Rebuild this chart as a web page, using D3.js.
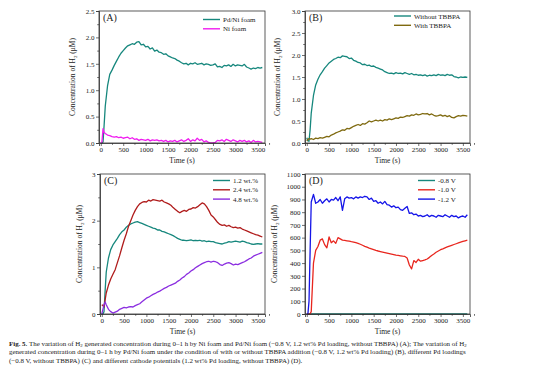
<!DOCTYPE html>
<html lang="en">
<head>
<meta charset="UTF-8">
<title>Fig. 5</title>
<script src="https://d3js.org/d3.v7.min.js"></script>
<style>
  body { margin: 0; background: #fff; }
  svg { display: block; font-family: "Liberation Serif", "DejaVu Serif", serif; }
</style>
</head>
<body>
<script>
// time axis shared by every series (s)
let time = [0, 25, 50, 75, 100,
  150, 200, 250, 300, 350, 400, 450, 500, 550, 600,
  650, 700, 750, 800, 850, 900, 950, 1000, 1050, 1100,
  1150, 1200, 1250, 1300, 1350, 1400, 1450, 1500, 1550, 1600,
  1650, 1700, 1750, 1800, 1850, 1900, 1950, 2000, 2050, 2100,
  2150, 2200, 2250, 2300, 2350, 2400, 2450, 2500, 2550, 2600,
  2650, 2700, 2750, 2800, 2850, 2900, 2950, 3000, 3050, 3100,
  3150, 3200, 3250, 3300, 3350, 3400, 3450, 3500, 3550, 3600];

let xTicks = [0, 500, 1000, 1500, 2000, 2500, 3000, 3500];

// (A)
let aPdNi = [0, 0, 0.02, 0.35, 0.7,
  1.08, 1.3, 1.38, 1.47, 1.55, 1.63, 1.70, 1.75, 1.80, 1.84,
  1.86, 1.88, 1.87, 1.91, 1.92, 1.86, 1.87, 1.82, 1.83, 1.78,
  1.80, 1.74, 1.76, 1.72, 1.71, 1.68, 1.69, 1.65, 1.63, 1.61,
  1.60, 1.57, 1.55, 1.52, 1.50, 1.51, 1.48, 1.51, 1.50, 1.52,
  1.49, 1.50, 1.51, 1.48, 1.50, 1.49, 1.47, 1.48, 1.50, 1.44,
  1.45, 1.43, 1.47, 1.46, 1.48, 1.45, 1.49, 1.46, 1.48, 1.47,
  1.46, 1.49, 1.44, 1.42, 1.40, 1.42, 1.41, 1.43, 1.42, 1.43];
let aNi = [0, 0.02, 0.27, 0.2, 0.18,
  0.15, 0.14, 0.12, 0.11, 0.12, 0.10, 0.11, 0.09, 0.10, 0.11,
  0.08, 0.10, 0.07, 0.08, 0.05, 0.07, 0.06, 0.05, 0.07, 0.04,
  0.06, 0.05, 0.06, 0.04, 0.05, 0.03, 0.05, 0.02, 0.04, 0.03,
  0.05, 0.02, 0.04, 0.06, 0.03, 0.05, 0.08, 0.03, 0.06, 0.04,
  0.09, 0.05, 0.07, 0.02, 0.04, 0.01, 0.0, 0.0, 0.01, 0.05,
  0.04, 0.06, 0.03, 0.07, 0.05, 0.03, 0.06, 0.04, 0.02, 0.05,
  0.03, 0.05, 0.02, 0.04, 0.01, 0.05, 0.02, 0.03, 0.02, 0.01];

// (B)
let bWithout = [0.12, 0.05, 0.04, 0.3, 0.68,
  1.08, 1.32, 1.45, 1.55, 1.62, 1.70, 1.76, 1.82, 1.86, 1.90,
  1.92, 1.95, 1.94, 1.98, 1.97, 1.96, 1.92, 1.93, 1.88, 1.86,
  1.83, 1.82, 1.78, 1.79, 1.76, 1.77, 1.74, 1.75, 1.72, 1.70,
  1.68, 1.66, 1.62, 1.60, 1.58, 1.59, 1.57, 1.60, 1.58, 1.59,
  1.57, 1.60, 1.58, 1.56, 1.58, 1.55, 1.56, 1.54, 1.55, 1.53,
  1.55, 1.52, 1.54, 1.53, 1.55, 1.53, 1.56, 1.54, 1.55, 1.53,
  1.56, 1.54, 1.55, 1.51, 1.50, 1.48, 1.50, 1.49, 1.50, 1.49];
let bWith = [0.05, 0.08, 0.1, 0.09, 0.1,
  0.08, 0.11, 0.1, 0.12, 0.11, 0.13, 0.15, 0.14, 0.18, 0.2,
  0.23, 0.25, 0.27, 0.3, 0.29, 0.33, 0.32, 0.35, 0.38, 0.4,
  0.42, 0.4, 0.44, 0.43, 0.46, 0.5, 0.48, 0.5, 0.52, 0.5,
  0.52, 0.5, 0.53, 0.52, 0.55, 0.53, 0.55, 0.57, 0.56, 0.59,
  0.58, 0.6, 0.62, 0.61, 0.64, 0.63, 0.66, 0.64, 0.65, 0.67,
  0.66, 0.67, 0.64, 0.66, 0.63, 0.61, 0.62, 0.64, 0.61, 0.63,
  0.60, 0.62, 0.58, 0.57, 0.60, 0.62, 0.61, 0.63, 0.62, 0.61];

// (C)
let c12 = [0, 0, 0.05, 0.5, 0.9,
  1.2, 1.38, 1.48, 1.55, 1.62, 1.7, 1.76, 1.8, 1.86, 1.9,
  1.93, 1.95, 1.97, 1.98, 1.96, 1.94, 1.92, 1.9, 1.88, 1.86,
  1.84, 1.83, 1.8, 1.8, 1.77, 1.76, 1.74, 1.72, 1.7, 1.68,
  1.65, 1.62, 1.6, 1.58, 1.58, 1.57, 1.58, 1.59, 1.57, 1.58,
  1.57, 1.58, 1.56, 1.57, 1.55, 1.56, 1.55, 1.55, 1.53, 1.52,
  1.51, 1.50, 1.52, 1.53, 1.55, 1.54, 1.55, 1.56, 1.55, 1.54,
  1.56, 1.55, 1.53, 1.52, 1.5, 1.49, 1.5, 1.51, 1.5, 1.5];
let c24 = [0.2, 0.18, 0.15, 0.3, 0.45,
  0.62, 0.75, 0.85, 0.95, 1.1, 1.25, 1.42, 1.58, 1.72, 1.88,
  2.0, 2.12, 2.22, 2.3, 2.36, 2.39, 2.41, 2.40, 2.44, 2.42,
  2.45, 2.44, 2.43, 2.42, 2.44, 2.40, 2.38, 2.36, 2.33, 2.28,
  2.24, 2.20, 2.17, 2.2, 2.22, 2.2, 2.24, 2.25, 2.28, 2.27,
  2.3, 2.34, 2.38, 2.36, 2.3, 2.22, 2.12, 2.08, 2.02, 1.96,
  1.92, 1.9, 1.91, 1.88, 1.9, 1.87, 1.85, 1.86, 1.84, 1.85,
  1.82, 1.80, 1.78, 1.76, 1.74, 1.72, 1.70, 1.69, 1.67, 1.65];
let c48 = [0, 0.1, 0.2, 0.26, 0.2,
  0.1, 0.05, 0.02, 0.04, 0.06, 0.1, 0.12, 0.14, 0.13, 0.15,
  0.16, 0.15, 0.18, 0.2, 0.22, 0.26, 0.3, 0.34, 0.36, 0.39,
  0.42, 0.44, 0.47, 0.49, 0.52, 0.55, 0.57, 0.6, 0.62, 0.64,
  0.66, 0.70, 0.73, 0.77, 0.80, 0.85, 0.88, 0.92, 0.95, 0.99,
  1.02, 1.05, 1.08, 1.10, 1.12, 1.13, 1.11, 1.13, 1.12, 1.10,
  1.06, 1.04, 1.07, 1.09, 1.10, 1.08, 1.05, 1.07, 1.06, 1.08,
  1.10, 1.12, 1.15, 1.18, 1.20, 1.24, 1.26, 1.28, 1.30, 1.32];

// (D)
let d08 = [0, 0, 0, 0, 0,
  0, 0, 0, 0, 0, 0, 0, 0, 0, 0,
  0, 0, 0, 0, 0, 0, 0, 0, 0, 0,
  0, 0, 0, 0, 0, 0, 0, 0, 0, 0,
  0, 0, 0, 0, 0, 0, 0, 0, 0, 0,
  0, 0, 0, 0, 0, 0, 0, 0, 0, 0,
  0, 0, 0, 0, 0, 0, 0, 0, 0, 0,
  0, 0, 0, 0, 0, 0, 0, 0, 0, 0];
let d10 = [0, 0, 0, 0, 20,
  400, 500, 530, 580, 590, 545, 520, 605, 560, 575,
  555, 600, 590, 580, 578, 575, 572, 568, 565, 560,
  555, 548, 540, 532, 525, 518, 512, 506, 500, 495,
  491, 487, 483, 479, 475, 471, 467, 463, 460, 457,
  454, 452, 440, 385, 355, 420, 405, 430, 415, 420,
  425, 432, 445, 460, 472, 485, 495, 505, 512, 520,
  527, 534, 540, 546, 552, 558, 564, 570, 575, 580];
let d12 = [0, 0, 100, 500, 880,
  940, 870, 880, 900, 870, 890, 905, 880, 900, 895,
  915, 890, 920, 815, 905, 920, 910, 915, 905, 920,
  910, 920, 915, 925, 920, 900, 910, 885, 890, 870,
  880, 865, 885, 860, 855, 840, 850, 835, 840, 820,
  815, 830, 845, 790, 795, 780, 785, 770, 775, 765,
  770, 780, 765, 775, 770, 760, 775, 770, 765, 780,
  770, 760, 775, 765, 770, 755, 765, 770, 760, 780];

let teal = "#16877d";

let panels = [
  { tag: "(A)", x0: 99, x1: 265, y0: 143, y1: 11, yMax: 2.5, yTicks: [0, 0.5, 1, 1.5, 2, 2.5], yMinor: 0.25, fmt: ".1f", titleX: 75,
    legX: 203, legY: 19.5,
    series: [{ name: "Pd/Ni foam", values: aPdNi, color: teal }, { name: "Ni foam", values: aNi, color: "#f01cf0" }] },
  { tag: "(B)", x0: 305, x1: 470, y0: 143, y1: 11, yMax: 3, yTicks: [0, 0.5, 1, 1.5, 2, 2.5, 3], yMinor: 0.25, fmt: ".1f", titleX: 280,
    legX: 394, legY: 16,
    series: [{ name: "Without TBBPA", values: bWithout, color: teal }, { name: "With TBBPA", values: bWith, color: "#7f6a10" }] },
  { tag: "(C)", x0: 100, x1: 265, y0: 314, y1: 174, yMax: 3, yTicks: [0, 1, 2, 3], yMinor: 0.5, fmt: "d", titleX: 82,
    legX: 213, legY: 180.5,
    series: [{ name: "1.2 wt.%", values: c12, color: teal }, { name: "2.4 wt.%", values: c24, color: "#b01c1c" }, { name: "4.8 wt.%", values: c48, color: "#8b2ee0" }] },
  { tag: "(D)", x0: 305, x1: 470, y0: 314, y1: 174, yMax: 1100, yTicks: d3.range(0, 1101, 100), yMinor: null, fmt: "d", titleX: 277,
    legX: 418, legY: 180.5,
    series: [{ name: "-0.8 V", values: d08, color: teal }, { name: "-1.0 V", values: d10, color: "#e8261e" }, { name: "-1.2 V", values: d12, color: "#1515e8" }] }
];

let svg = d3.select("body").append("svg").attr("width", 554).attr("height", 382);

panels.forEach(function(p) {
  let x = d3.scaleLinear().domain([-40, 3660]).range([p.x0, p.x1]);
  let y = d3.scaleLinear().domain([0, p.yMax]).range([p.y0, p.y1]);
  let g = svg.append("g");

  // series
  let line = d3.line().x((d, i) => x(time[i])).y(d => y(d));
  p.series.forEach(function(s) {
    g.append("path").datum(s.values)
      .attr("fill", "none").attr("stroke", s.color).attr("stroke-width", 1.3)
      .attr("stroke-linejoin", "round").attr("d", line);
  });

  // frame
  g.append("rect").attr("x", p.x0).attr("y", p.y1)
    .attr("width", p.x1 - p.x0).attr("height", p.y0 - p.y1)
    .attr("fill", "none").attr("stroke", "#333").attr("stroke-width", 0.8);

  // axes
  g.append("g").attr("transform", `translate(0,${p.y0})`)
    .call(d3.axisBottom(x).tickValues(xTicks).tickSize(3).tickPadding(1.5).tickFormat(d3.format("d")));
  g.append("g").attr("transform", `translate(0,${p.y0})`)
    .call(d3.axisBottom(x).tickValues(xTicks.map(v => v + 250)).tickSize(1.8).tickFormat(""))
    .call(a => a.select(".domain").remove());
  g.append("g").attr("transform", `translate(${p.x0},0)`)
    .call(d3.axisLeft(y).tickValues(p.yTicks).tickSize(3).tickPadding(1.5).tickFormat(d3.format(p.fmt)));
  if (p.yMinor) {
    g.append("g").attr("transform", `translate(${p.x0},0)`)
      .call(d3.axisLeft(y).tickValues(p.yTicks.slice(0, -1).map(v => v + p.yMinor)).tickSize(1.8).tickFormat(""))
      .call(a => a.select(".domain").remove());
  }
  g.selectAll(".domain").attr("stroke", "#333").attr("stroke-width", 0.8);
  g.selectAll(".tick line").attr("stroke", "#333").attr("stroke-width", 0.7);
  g.selectAll(".tick text").attr("font-family", "Liberation Serif").attr("font-size", 7).attr("fill", "#222");

  // titles
  g.append("text").attr("x", (p.x0 + p.x1) / 2).attr("y", p.y0 + 20)
    .attr("text-anchor", "middle").attr("font-size", 7.5).attr("fill", "#222").text("Time (s)");
  let yt = g.append("text").attr("transform", `translate(${p.titleX},${(p.y0 + p.y1) / 2}) rotate(-90)`)
    .attr("text-anchor", "middle").attr("font-size", 7.5).attr("fill", "#222");
  yt.append("tspan").text("Concentration of H");
  yt.append("tspan").attr("font-size", 5).attr("dy", 1.5).text("2");
  yt.append("tspan").attr("dy", -1.5).text(" (\u03bcM)");

  // panel tag
  g.append("text").attr("x", p.x0 + 4).attr("y", p.y1 + 10)
    .attr("font-size", 10).attr("fill", "#222").text(p.tag);

  // legend
  p.series.forEach(function(s, i) {
    let ly = p.legY + i * 9.3;
    g.append("line").attr("x1", p.legX).attr("x2", p.legX + 17).attr("y1", ly).attr("y2", ly)
      .attr("stroke", s.color).attr("stroke-width", 1.4);
    g.append("text").attr("x", p.legX + 20).attr("y", ly + 2.5)
      .attr("font-size", 7).attr("fill", "#222").text(s.name);
  });
});

// caption
let captionLines = [
  ["Fig. 5.", " The variation of H", "2", " generated concentration during 0\u20131 h by Ni foam and Pd/Ni foam (\u22120.8 V, 1.2 wt% Pd loading, without TBBPA) (A); The variation of H", "2"],
  ["", "generated concentration during 0\u20131 h by Pd/Ni foam under the condition of with or without TBBPA addition (\u22120.8 V, 1.2 wt% Pd loading) (B), different Pd loadings"],
  ["", "(\u22120.8 V, without TBBPA) (C) and different cathode potentials (1.2 wt% Pd loading, without TBBPA) (D)."]
];
captionLines.forEach(function(parts, li) {
  let t = svg.append("text").attr("x", 9).attr("y", 345.5 + li * 8.6)
    .attr("font-size", 6.95).attr("fill", "#222");
  parts.forEach(function(s, k) {
    if (s === "") return;
    let ts = t.append("tspan").text(s);
    if (k === 0) ts.attr("font-weight", "bold");
    if (s === "2") ts.attr("font-size", 4.8).attr("dy", 1.3);
    else if (k > 0 && parts[k - 1] === "2") ts.attr("dy", -1.3);
  });
});
</script>
</body>
</html>
